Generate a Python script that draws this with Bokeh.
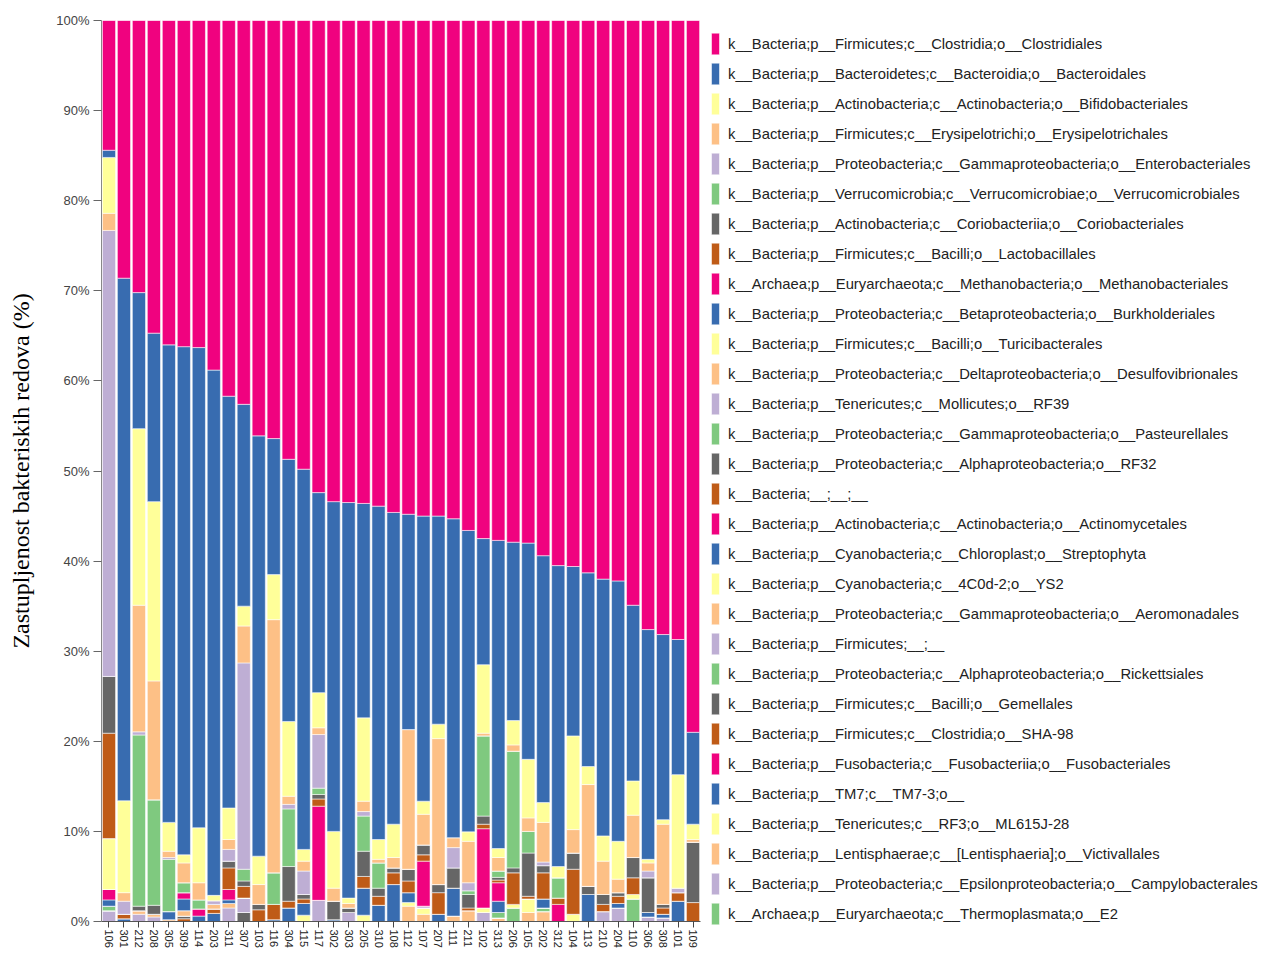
import math
from bokeh.plotting import figure
from bokeh.models import ColumnDataSource, FactorRange, Range1d, Legend, LegendItem, FixedTicker
from bokeh.embed import file_html
from bokeh.resources import INLINE

samples = ["106", "301", "212", "208", "305", "309", "114", "203", "311", "307",
           "103", "116", "304", "115", "117", "302", "303", "205", "310", "108",
           "112", "107", "207", "111", "211", "102", "313", "206", "105", "202",
           "312", "104", "113", "210", "204", "110", "306", "308", "101", "109"]

taxa = [
    "k__Bacteria;p__Firmicutes;c__Clostridia;o__Clostridiales",
    "k__Bacteria;p__Bacteroidetes;c__Bacteroidia;o__Bacteroidales",
    "k__Bacteria;p__Actinobacteria;c__Actinobacteria;o__Bifidobacteriales",
    "k__Bacteria;p__Firmicutes;c__Erysipelotrichi;o__Erysipelotrichales",
    "k__Bacteria;p__Proteobacteria;c__Gammaproteobacteria;o__Enterobacteriales",
    "k__Bacteria;p__Verrucomicrobia;c__Verrucomicrobiae;o__Verrucomicrobiales",
    "k__Bacteria;p__Actinobacteria;c__Coriobacteriia;o__Coriobacteriales",
    "k__Bacteria;p__Firmicutes;c__Bacilli;o__Lactobacillales",
    "k__Archaea;p__Euryarchaeota;c__Methanobacteria;o__Methanobacteriales",
    "k__Bacteria;p__Proteobacteria;c__Betaproteobacteria;o__Burkholderiales",
    "k__Bacteria;p__Firmicutes;c__Bacilli;o__Turicibacterales",
    "k__Bacteria;p__Proteobacteria;c__Deltaproteobacteria;o__Desulfovibrionales",
    "k__Bacteria;p__Tenericutes;c__Mollicutes;o__RF39",
    "k__Bacteria;p__Proteobacteria;c__Gammaproteobacteria;o__Pasteurellales",
    "k__Bacteria;p__Proteobacteria;c__Alphaproteobacteria;o__RF32",
    "k__Bacteria;__;__;__",
    "k__Bacteria;p__Actinobacteria;c__Actinobacteria;o__Actinomycetales",
    "k__Bacteria;p__Cyanobacteria;c__Chloroplast;o__Streptophyta",
    "k__Bacteria;p__Cyanobacteria;c__4C0d-2;o__YS2",
    "k__Bacteria;p__Proteobacteria;c__Gammaproteobacteria;o__Aeromonadales",
    "k__Bacteria;p__Firmicutes;__;__",
    "k__Bacteria;p__Proteobacteria;c__Alphaproteobacteria;o__Rickettsiales",
    "k__Bacteria;p__Firmicutes;c__Bacilli;o__Gemellales",
    "k__Bacteria;p__Firmicutes;c__Clostridia;o__SHA-98",
    "k__Bacteria;p__Fusobacteria;c__Fusobacteriia;o__Fusobacteriales",
    "k__Bacteria;p__TM7;c__TM7-3;o__",
    "k__Bacteria;p__Tenericutes;c__RF3;o__ML615J-28",
    "k__Bacteria;p__Lentisphaerae;c__[Lentisphaeria];o__Victivallales",
    "k__Bacteria;p__Proteobacteria;c__Epsilonproteobacteria;o__Campylobacterales",
    "k__Archaea;p__Euryarchaeota;c__Thermoplasmata;o__E2",
]

clostridiales = [14.4, 28.6, 30.2, 34.7, 36.0, 36.2, 36.3, 38.8, 41.7, 42.6,
                 46.1, 46.4, 48.7, 49.8, 52.4, 53.4, 53.5, 53.6, 53.9, 54.6,
                 54.8, 55.0, 55.0, 55.3, 56.6, 57.5, 57.7, 57.9, 58.0, 59.4,
                 60.5, 60.6, 61.3, 62.0, 62.2, 64.9, 67.6, 68.15, 68.7, 79.0]
bacteroidales = [0.8, 58.0, 15.1, 18.7, 53.0, 56.4, 53.3, 58.3, 45.7, 22.4,
                 46.65, 15.1, 29.1, 42.2, 22.2, 36.6, 43.9, 23.8, 37.0, 34.6,
                 23.9, 31.65, 23.1, 35.4, 33.45, 14.0, 34.2, 19.8, 24.0, 27.4,
                 33.4, 18.8, 21.5, 28.5, 28.9, 19.5, 25.5, 20.55, 15.0, 10.2]
bifidobacteriales = [6.2, 10.2, 19.6, 19.9, 3.2, 0.9, 6.1, 0.6, 3.5, 2.2,
                     3.15, 5.0, 8.3, 1.3, 3.9, 6.3, 0.6, 9.25, 2.2, 3.7,
                     0.0, 1.45, 1.6, 0.0, 1.05, 7.6, 1.0, 2.7, 6.5, 2.2,
                     1.25, 10.4, 2.0, 2.8, 4.2, 3.8, 0.4, 0.5, 12.6, 1.7]
erysipelotrichales = [1.9, 0.95, 14.05, 13.2, 0.7, 2.2, 1.9, 0.0, 1.1, 4.1,
                      2.2, 28.1, 0.9, 1.1, 0.75, 1.45, 0.5, 1.15, 0.4, 1.15,
                      15.5, 3.4, 16.2, 1.1, 4.6, 0.3, 1.5, 0.7, 1.5, 4.4,
                      0.0, 2.6, 11.3, 3.7, 1.5, 4.7, 0.9, 8.9, 0.0, 0.3]
enterobacteriales = [49.5, 1.45, 0.35, 0.0, 0.2, 0.0, 0.0, 0.4, 1.3, 22.9,
                     0.0, 0.0, 0.5, 2.6, 5.95, 0.0, 0.0, 0.5, 0.0, 0.0,
                     0.0, 0.0, 0.0, 2.25, 0.9, 0.0, 0.0, 0.0, 0.0, 0.4,
                     0.0, 0.0, 0.0, 0.0, 0.0, 0.0, 0.75, 0.0, 0.5, 0.0]
verrucomicrobiales = [0.0, 0.0, 19.0, 11.7, 5.8, 1.1, 1.0, 0.0, 0.0, 1.3,
                      0.0, 3.5, 6.4, 0.0, 0.7, 0.0, 0.0, 3.9, 2.8, 0.0,
                      0.0, 0.0, 0.0, 0.0, 0.4, 8.9, 0.7, 12.95, 2.4, 0.0,
                      2.25, 0.0, 0.0, 0.0, 0.0, 0.0, 0.0, 0.0, 0.0, 0.0]
coriobacteriales = [6.3, 0.0, 0.5, 1.0, 0.0, 0.0, 0.0, 0.0, 0.75, 0.6,
                    0.6, 0.0, 3.85, 0.5, 0.5, 2.05, 0.5, 2.8, 0.9, 0.55,
                    1.3, 1.1, 0.9, 2.25, 1.5, 0.9, 0.3, 0.55, 4.8, 0.8,
                    0.0, 1.8, 0.9, 1.1, 0.4, 2.25, 3.85, 0.4, 0.0, 6.7]
lactobacillales = [11.7, 0.5, 0.0, 0.0, 0.0, 0.0, 0.0, 0.0, 2.4, 1.3,
                   1.3, 1.7, 0.75, 0.5, 0.8, 0.0, 0.0, 1.3, 1.0, 1.3,
                   1.3, 0.7, 2.4, 0.0, 0.3, 0.5, 0.3, 3.5, 0.3, 2.9,
                   0.7, 5.0, 0.0, 0.8, 0.8, 1.85, 0.0, 0.7, 0.95, 2.1]
methanobacteriales = [0.0, 0.0, 0.0, 0.0, 0.0, 0.7, 0.8, 0.0, 1.15, 0.0,
                      0.0, 0.0, 0.0, 0.0, 10.45, 0.0, 0.0, 0.0, 0.0, 0.0,
                      0.0, 5.0, 0.0, 0.0, 0.0, 8.8, 2.05, 0.0, 0.0, 0.0,
                      1.9, 0.0, 0.0, 0.0, 0.0, 0.0, 0.0, 0.0, 0.0, 0.0]
burkholderiales = [0.0, 0.3, 0.0, 0.0, 0.9, 1.3, 0.6, 0.0, 0.4, 0.0,
                   0.0, 0.2, 1.5, 1.3, 0.0, 0.2, 0.0, 3.0, 1.8, 4.1,
                   1.1, 0.0, 0.8, 3.1, 0.0, 0.0, 1.25, 0.0, 0.0, 1.0,
                   0.0, 0.0, 3.0, 0.0, 0.5, 0.0, 0.5, 0.4, 2.25, 0.0]
turicibacterales = [5.65, 0.0, 0.0, 0.0, 0.0, 0.0, 0.0, 0.0, 0.0, 0.0,
                    0.0, 0.0, 0.0, 0.7, 0.0, 0.0, 0.0, 0.7, 0.0, 0.0,
                    0.4, 0.0, 0.0, 0.0, 0.0, 0.5, 0.0, 0.4, 1.5, 0.0,
                    0.0, 0.8, 0.0, 0.0, 0.0, 0.5, 0.0, 0.0, 0.0, 0.0]
desulfovibrionales = [0.0, 0.0, 0.4, 0.3, 0.2, 0.6, 0.0, 0.5, 0.5, 0.0,
                      0.0, 0.0, 0.0, 0.0, 0.0, 0.0, 0.0, 0.0, 0.0, 0.0,
                      1.7, 0.0, 0.0, 0.6, 1.2, 0.0, 0.0, 0.0, 1.0, 0.0,
                      0.0, 0.0, 0.0, 0.0, 0.0, 0.0, 0.0, 0.0, 0.0, 0.0]
rf39 = [0.0, 0.0, 0.8, 0.5, 0.0, 0.0, 0.0, 0.0, 1.5, 1.6,
        0.0, 0.0, 0.0, 0.0, 2.35, 0.0, 1.0, 0.0, 0.0, 0.0,
        0.0, 0.2, 0.0, 0.0, 0.0, 1.0, 0.0, 0.0, 0.0, 0.0,
        0.0, 0.0, 0.0, 1.1, 1.5, 0.0, 0.5, 0.4, 0.0, 0.0]
pasteurellales = [0.0, 0.0, 0.0, 0.0, 0.0, 0.0, 0.0, 0.0, 0.0, 0.0,
                  0.0, 0.0, 0.0, 0.0, 0.0, 0.0, 0.0, 0.0, 0.0, 0.0,
                  0.0, 0.0, 0.0, 0.0, 0.0, 0.0, 0.6, 1.5, 0.0, 0.4,
                  0.0, 0.0, 0.0, 0.0, 0.0, 2.5, 0.0, 0.0, 0.0, 0.0]
rf32 = [0.0, 0.0, 0.0, 0.0, 0.0, 0.3, 0.0, 0.0, 0.0, 1.0,
        0.0, 0.0, 0.0, 0.0, 0.0, 0.0, 0.0, 0.0, 0.0, 0.0,
        0.0, 0.0, 0.0, 0.0, 0.0, 0.0, 0.0, 0.0, 0.0, 0.0,
        0.0, 0.0, 0.0, 0.0, 0.0, 0.0, 0.0, 0.0, 0.0, 0.0]
bacteria_unassigned = [0.0, 0.0, 0.0, 0.0, 0.0, 0.3, 0.0, 0.5, 0.0, 0.0,
                       0.0, 0.0, 0.0, 0.0, 0.0, 0.0, 0.0, 0.0, 0.0, 0.0,
                       0.0, 0.0, 0.0, 0.0, 0.0, 0.0, 0.0, 0.0, 0.0, 0.0,
                       0.0, 0.0, 0.0, 0.0, 0.0, 0.0, 0.0, 0.0, 0.0, 0.0]
actinomycetales = [1.15, 0.0, 0.0, 0.0, 0.0, 0.0, 0.0, 0.0, 0.0, 0.0,
                   0.0, 0.0, 0.0, 0.0, 0.0, 0.0, 0.0, 0.0, 0.0, 0.0,
                   0.0, 0.0, 0.0, 0.0, 0.0, 0.0, 0.0, 0.0, 0.0, 0.0,
                   0.0, 0.0, 0.0, 0.0, 0.0, 0.0, 0.0, 0.0, 0.0, 0.0]
streptophyta = [0.7, 0.0, 0.0, 0.0, 0.0, 0.0, 0.0, 0.9, 0.0, 0.0,
                0.0, 0.0, 0.0, 0.0, 0.0, 0.0, 0.0, 0.0, 0.0, 0.0,
                0.0, 0.0, 0.0, 0.0, 0.0, 0.0, 0.0, 0.0, 0.0, 0.0,
                0.0, 0.0, 0.0, 0.0, 0.0, 0.0, 0.0, 0.0, 0.0, 0.0]
ys2 = [0.0, 0.0, 0.0, 0.0, 0.0, 0.0, 0.0, 0.0, 0.0, 0.0,
       0.0, 0.0, 0.0, 0.0, 0.0, 0.0, 0.0, 0.0, 0.0, 0.0,
       0.0, 0.7, 0.0, 0.0, 0.0, 0.0, 0.0, 0.0, 0.0, 0.0,
       0.0, 0.0, 0.0, 0.0, 0.0, 0.0, 0.0, 0.0, 0.0, 0.0]
aeromonadales = [0.0, 0.0, 0.0, 0.0, 0.0, 0.0, 0.0, 0.0, 0.0, 0.0,
                 0.0, 0.0, 0.0, 0.0, 0.0, 0.0, 0.0, 0.0, 0.0, 0.0,
                 0.0, 0.8, 0.0, 0.0, 0.0, 0.0, 0.4, 0.0, 0.0, 1.1,
                 0.0, 0.0, 0.0, 0.0, 0.0, 0.0, 0.0, 0.0, 0.0, 0.0]
firmicutes_unassigned = [0.0, 0.0, 0.0, 0.0, 0.0, 0.0, 0.0, 0.0, 0.0, 0.0,
                         0.0, 0.0, 0.0, 0.0, 0.0, 0.0, 0.0, 0.0, 0.0, 0.0,
                         0.0, 0.0, 0.0, 0.0, 0.0, 0.0, 0.0, 0.0, 0.0, 0.0,
                         0.0, 0.0, 0.0, 0.0, 0.0, 0.0, 0.0, 0.0, 0.0, 0.0]
rickettsiales = [0.5, 0.0, 0.0, 0.0, 0.0, 0.0, 0.0, 0.0, 0.0, 0.0,
                 0.0, 0.0, 0.0, 0.0, 0.0, 0.0, 0.0, 0.0, 0.0, 0.0,
                 0.0, 0.0, 0.0, 0.0, 0.0, 0.0, 0.0, 0.0, 0.0, 0.0,
                 0.0, 0.0, 0.0, 0.0, 0.0, 0.0, 0.0, 0.0, 0.0, 0.0]
gemellales = [0.0, 0.0, 0.0, 0.0, 0.0, 0.0, 0.0, 0.0, 0.0, 0.0,
              0.0, 0.0, 0.0, 0.0, 0.0, 0.0, 0.0, 0.0, 0.0, 0.0,
              0.0, 0.0, 0.0, 0.0, 0.0, 0.0, 0.0, 0.0, 0.0, 0.0,
              0.0, 0.0, 0.0, 0.0, 0.0, 0.0, 0.0, 0.0, 0.0, 0.0]
sha98 = [0.0, 0.0, 0.0, 0.0, 0.0, 0.0, 0.0, 0.0, 0.0, 0.0,
         0.0, 0.0, 0.0, 0.0, 0.0, 0.0, 0.0, 0.0, 0.0, 0.0,
         0.0, 0.0, 0.0, 0.0, 0.0, 0.0, 0.0, 0.0, 0.0, 0.0,
         0.0, 0.0, 0.0, 0.0, 0.0, 0.0, 0.0, 0.0, 0.0, 0.0]
fusobacteriales = [0.0, 0.0, 0.0, 0.0, 0.0, 0.0, 0.0, 0.0, 0.0, 0.0,
                   0.0, 0.0, 0.0, 0.0, 0.0, 0.0, 0.0, 0.0, 0.0, 0.0,
                   0.0, 0.0, 0.0, 0.0, 0.0, 0.0, 0.0, 0.0, 0.0, 0.0,
                   0.0, 0.0, 0.0, 0.0, 0.0, 0.0, 0.0, 0.0, 0.0, 0.0]
tm7 = [0.0, 0.0, 0.0, 0.0, 0.0, 0.0, 0.0, 0.0, 0.0, 0.0,
       0.0, 0.0, 0.0, 0.0, 0.0, 0.0, 0.0, 0.0, 0.0, 0.0,
       0.0, 0.0, 0.0, 0.0, 0.0, 0.0, 0.0, 0.0, 0.0, 0.0,
       0.0, 0.0, 0.0, 0.0, 0.0, 0.0, 0.0, 0.0, 0.0, 0.0]
ml615j28 = [0.0, 0.0, 0.0, 0.0, 0.0, 0.0, 0.0, 0.0, 0.0, 0.0,
            0.0, 0.0, 0.0, 0.0, 0.0, 0.0, 0.0, 0.0, 0.0, 0.0,
            0.0, 0.0, 0.0, 0.0, 0.0, 0.0, 0.0, 0.0, 0.0, 0.0,
            0.0, 0.0, 0.0, 0.0, 0.0, 0.0, 0.0, 0.0, 0.0, 0.0]
victivallales = [0.0, 0.0, 0.0, 0.0, 0.0, 0.0, 0.0, 0.0, 0.0, 0.0,
                 0.0, 0.0, 0.0, 0.0, 0.0, 0.0, 0.0, 0.0, 0.0, 0.0,
                 0.0, 0.0, 0.0, 0.0, 0.0, 0.0, 0.0, 0.0, 0.0, 0.0,
                 0.0, 0.0, 0.0, 0.0, 0.0, 0.0, 0.0, 0.0, 0.0, 0.0]
campylobacterales = [1.2, 0.0, 0.0, 0.0, 0.0, 0.0, 0.0, 0.0, 0.0, 0.0,
                     0.0, 0.0, 0.0, 0.0, 0.0, 0.0, 0.0, 0.0, 0.0, 0.0,
                     0.0, 0.0, 0.0, 0.0, 0.0, 0.0, 0.0, 0.0, 0.0, 0.0,
                     0.0, 0.0, 0.0, 0.0, 0.0, 0.0, 0.0, 0.0, 0.0, 0.0]
e2 = [0.0, 0.0, 0.0, 0.0, 0.0, 0.0, 0.0, 0.0, 0.0, 0.0,
      0.0, 0.0, 0.0, 0.0, 0.0, 0.0, 0.0, 0.0, 0.0, 0.0,
      0.0, 0.0, 0.0, 0.0, 0.0, 0.0, 0.0, 0.0, 0.0, 0.0,
      0.0, 0.0, 0.0, 0.0, 0.0, 0.0, 0.0, 0.0, 0.0, 0.0]

series = [clostridiales, bacteroidales, bifidobacteriales, erysipelotrichales,
          enterobacteriales, verrucomicrobiales, coriobacteriales, lactobacillales,
          methanobacteriales, burkholderiales, turicibacterales, desulfovibrionales,
          rf39, pasteurellales, rf32, bacteria_unassigned, actinomycetales,
          streptophyta, ys2, aeromonadales, firmicutes_unassigned, rickettsiales,
          gemellales, sha98, fusobacteriales, tm7, ml615j28, victivallales,
          campylobacterales, e2]

palette = ["#f0027f", "#386cb0", "#ffff99", "#fdc086",
           "#beaed4", "#7fc97f", "#666666", "#bf5b17"]

y_ticks = [0, 10, 20, 30, 40, 50, 60, 70, 80, 90, 100]
y_tick_labels = ["0%", "10%", "20%", "30%", "40%", "50%", "60%", "70%", "80%", "90%", "100%"]
y_title = "Zastupljenost bakteriskih redova (%)"

keys = ["s%02d" % i for i in range(len(taxa))]
data = {"sample": samples}
for k, vals in zip(keys, series):
    data[k] = vals
source = ColumnDataSource(data)
colors = [palette[i % len(palette)] for i in range(len(taxa))]

p = figure(x_range=FactorRange(*samples, range_padding=0),
           y_range=Range1d(0, 100),
           frame_width=599, frame_height=901,
           output_backend="svg", toolbar_location=None,
           min_border_top=20, min_border_left=101, min_border_right=0,
           min_border_bottom=0)
p.outline_line_color = None
p.xgrid.grid_line_color = None
p.ygrid.grid_line_color = None

renderers = p.vbar_stack(list(reversed(keys)), x="sample", width=0.88,
                         color=list(reversed(colors)), source=source,
                         line_color="white", line_width=1, line_alpha=0.55)
renderers = list(reversed(renderers))

p.yaxis.ticker = FixedTicker(ticks=y_ticks)
p.yaxis.major_label_overrides = {t: l for t, l in zip(y_ticks, y_tick_labels)}
p.yaxis.major_label_text_font = "Liberation Sans"
p.yaxis.major_label_text_font_size = "13px"
p.yaxis.major_label_text_color = "#444444"
p.yaxis.major_tick_out = 8
p.yaxis.major_tick_in = 0
p.yaxis.minor_tick_line_color = None
p.yaxis.axis_line_color = "#888888"
p.yaxis.major_tick_line_color = "#666666"
p.yaxis.major_label_standoff = 4
p.yaxis.axis_label = y_title
p.yaxis.axis_label_text_font = "Liberation Serif"
p.yaxis.axis_label_text_font_style = "normal"
p.yaxis.axis_label_text_font_size = "24px"
p.yaxis.axis_label_text_color = "#000000"
p.yaxis.axis_label_standoff = 19

p.xaxis.major_label_orientation = -math.pi / 2
p.xaxis.major_label_text_font = "Liberation Sans"
p.xaxis.major_label_text_font_size = "11px"
p.xaxis.major_label_text_color = "#222222"
p.xaxis.major_tick_out = 6
p.xaxis.major_tick_in = 0
p.xaxis.major_label_standoff = 2
p.xaxis.axis_line_color = "#555555"
p.xaxis.major_tick_line_color = "#444444"

items = [LegendItem(label=t, renderers=[r]) for t, r in zip(taxa, renderers)]
legend = Legend(items=items, location="top_left", orientation="vertical",
                glyph_width=10, glyph_height=27, label_height=27, spacing=3,
                padding=0, margin=10, label_standoff=8,
                label_text_font="Liberation Sans", label_text_font_size="14.8px",
                label_text_color="#222222",
                border_line_color=None, background_fill_alpha=0)
p.add_layout(legend, "right")

open("out.html", "w").write(file_html(p, INLINE))
